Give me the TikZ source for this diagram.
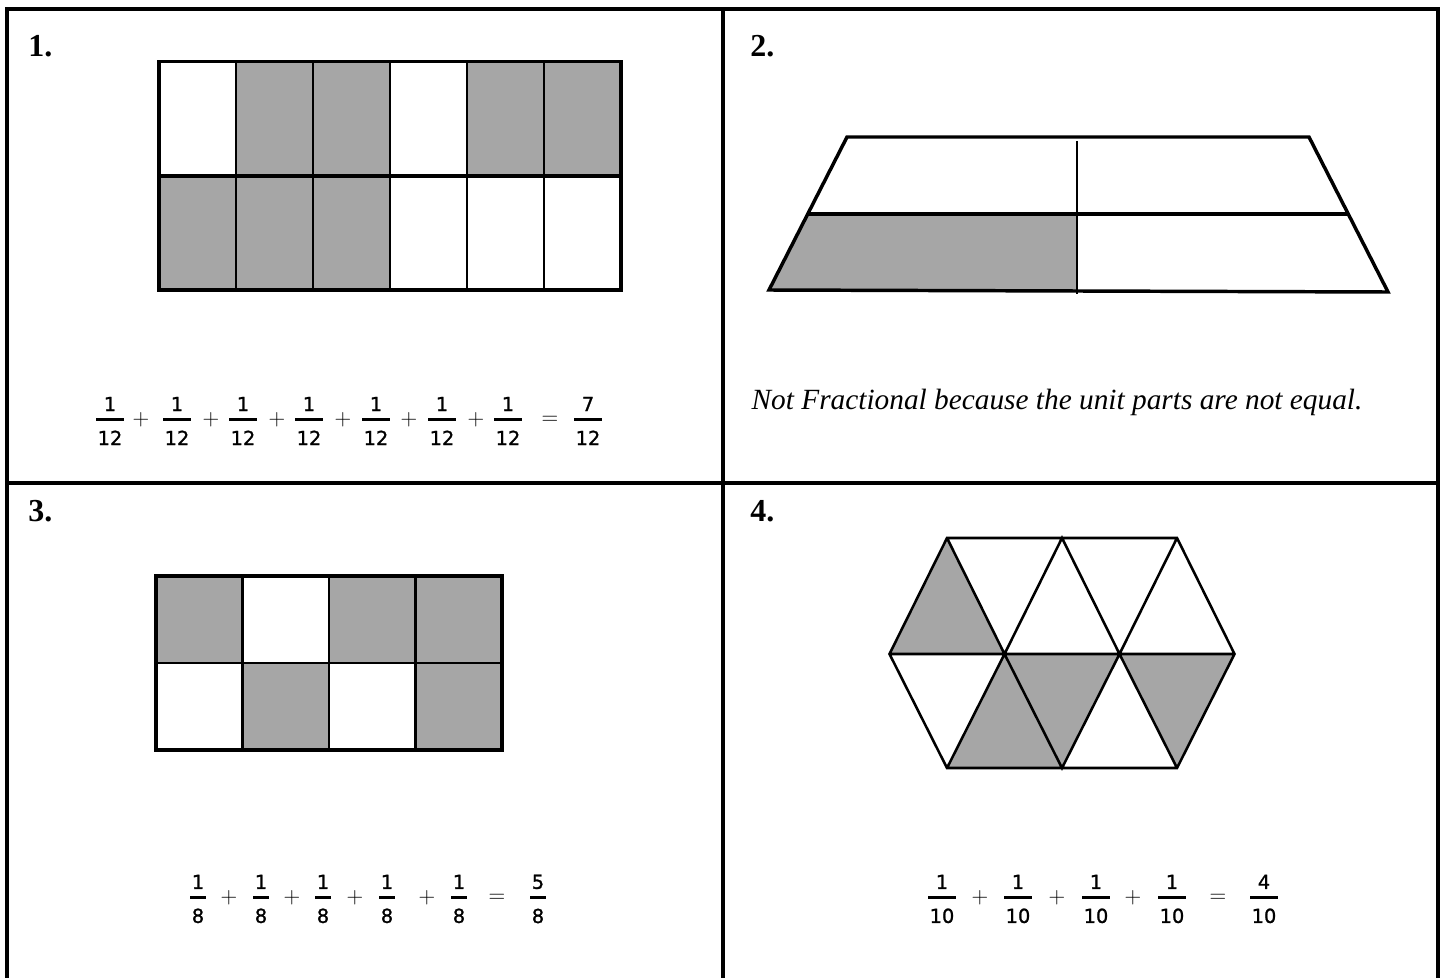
\documentclass[tikz,border=0pt]{standalone}
\usepackage{fontspec}
\setmainfont{Liberation Serif}
\newfontfamily\numfont[FakeBold=1.2]{DejaVu Sans}
\definecolor{shade}{HTML}{A6A6A6}
\newcommand{\myfrac}[2]{\setbox2\hbox{#2}\vbox{\offinterlineskip\halign{\hfil##\hfil\cr #1\cr\noalign{\kern5pt}\vrule width\dimexpr\wd2+2.5pt\relax height2.2pt depth0pt\cr\noalign{\kern7.5pt}#2\cr}}}
\begin{document}
\begin{tikzpicture}[x=0.75pt,y=-0.75pt,
  frame/.style={line width=3pt},
  thick outline/.style={line width=2.6pt,line join=miter},
  thin line/.style={line width=1.6pt},
  cell/.style={fill=shade},
  frac/.style={inner sep=0pt,font=\numfont\fontsize{14.5}{17}\selectfont},
  op/.style={inner sep=0pt,font=\fontsize{18}{20}\selectfont},
  label/.style={inner sep=0pt,anchor=base west,font=\bfseries\fontsize{24}{28}\selectfont},
  note/.style={inner sep=0pt,anchor=base,font=\itshape\fontsize{22}{26}\selectfont}]
\useasboundingbox (0,0) rectangle (1444,977);
% frame
\draw[frame] (7,990) -- (7,9) -- (1438,9) -- (1438,990);
\draw[frame] (723,9) -- (723,990);
\draw[frame] (7,483) -- (1438,483);
% labels
\node[label] (l1) at (28,57) {1.};
\node[label] (l2) at (750,57) {2.};
\node[label] (l3) at (28,521) {3.};
\node[label] (l4) at (750,521) {4.};
% ---- panel 1 : 2x6 grid
\foreach \c in {1,2,4,5} \fill[cell] (159+77*\c,61.5) rectangle (236+77*\c,176);
\foreach \c in {0,1,2} \fill[cell] (159+77*\c,176) rectangle (236+77*\c,290);
\foreach \c in {1,...,5} \draw[thin line] (159+77*\c,61.5) -- (159+77*\c,290);
\draw[thick outline] (159,176) -- (621,176);
\draw[thick outline] (159,61.5) rectangle (621,290);
\foreach \x [count=\i] in {110,177,243,309,376,442,508}
  \node[frac] (a\i) at (\x,421) {\myfrac{1}{12}};
\node[frac] (a8) at (588,421) {\myfrac{7}{12}};
\foreach \x [count=\i] in {141,211,277,343,409,476}
  \node[op] (ap\i) at (\x,420) {$+$};
\node[op] (aeq) at (550,420) {$=$};
% ---- panel 2 : trapezoid
\coordinate (tl) at (847,137);
\coordinate (tr) at (1309,137);
\coordinate (br) at (1388,292);
\coordinate (bl) at (769,290);
\coordinate (ml) at (807.7,214);
\coordinate (mr) at (1348,214);
\coordinate (mt) at (1077,141);
\coordinate (mm) at (1077,214);
\coordinate (mb) at (1077,294);
\fill[cell] (ml) -- (mm) -- (1077,291) -- (bl) -- cycle;
\draw[thin line] (mt) -- (mb);
\draw[line width=2.4pt] (ml) -- (mr);
\draw[thick outline] (tl) -- (tr) -- (br) -- (bl) -- cycle;
\node[note] (n2) at (1057,409) {Not Fractional because the unit parts are not equal.};
% ---- panel 3 : 2x4 grid
\foreach \c in {0,2,3} \fill[cell] (156+86.5*\c,576) rectangle (242.5+86.5*\c,663);
\foreach \c in {1,3} \fill[cell] (156+86.5*\c,663) rectangle (242.5+86.5*\c,750);
\foreach \c in {1,2,3} \draw[thin line] (156+86.5*\c,576) -- (156+86.5*\c,752);
\draw[thin line] (156,663) -- (502,663);
\draw[thick outline] (156,576) rectangle (502,750);
\foreach \x [count=\i] in {198,261,323,387,459}
  \node[frac] (c\i) at (\x,899) {\myfrac{1}{8}};
\node[frac] (c6) at (538,899) {\myfrac{5}{8}};
\foreach \x [count=\i] in {229,292,355,427}
  \node[op] (cp\i) at (\x,898) {$+$};
\node[op] (ceq) at (497,898) {$=$};
% ---- panel 4 : hexagon
\coordinate (hL) at (889.5,654);
\coordinate (hTL) at (947,538);
\coordinate (hTM) at (1062,538);
\coordinate (hTR) at (1177,538);
\coordinate (hR) at (1234.5,654);
\coordinate (hBL) at (947,768);
\coordinate (hBM) at (1062,768);
\coordinate (hBR) at (1177,768);
\coordinate (hC1) at (1004.5,654);
\coordinate (hC2) at (1119.5,654);
\fill[cell] (hL) -- (hTL) -- (hC1) -- cycle;
\fill[cell] (hBL) -- (hC1) -- (hBM) -- cycle;
\fill[cell] (hC1) -- (hC2) -- (hBM) -- cycle;
\fill[cell] (hC2) -- (hR) -- (hBR) -- cycle;
\draw[line width=1.9pt,line join=miter]
  (hL) -- (hTL) -- (hTR) -- (hR) -- (hBR) -- (hBL) -- cycle
  (hL) -- (hR)
  (hTL) -- (hC1) -- (hTM) -- (hC2) -- (hTR)
  (hBL) -- (hC1) -- (hBM) -- (hC2) -- (hBR);
\foreach \x [count=\i] in {942,1018,1096,1172}
  \node[frac] (d\i) at (\x,899) {\myfrac{1}{10}};
\node[frac] (d5) at (1264,899) {\myfrac{4}{10}};
\foreach \x [count=\i] in {980,1057,1133}
  \node[op] (dp\i) at (\x,898) {$+$};
\node[op] (deq) at (1218,898) {$=$};
\end{tikzpicture}
\end{document}
